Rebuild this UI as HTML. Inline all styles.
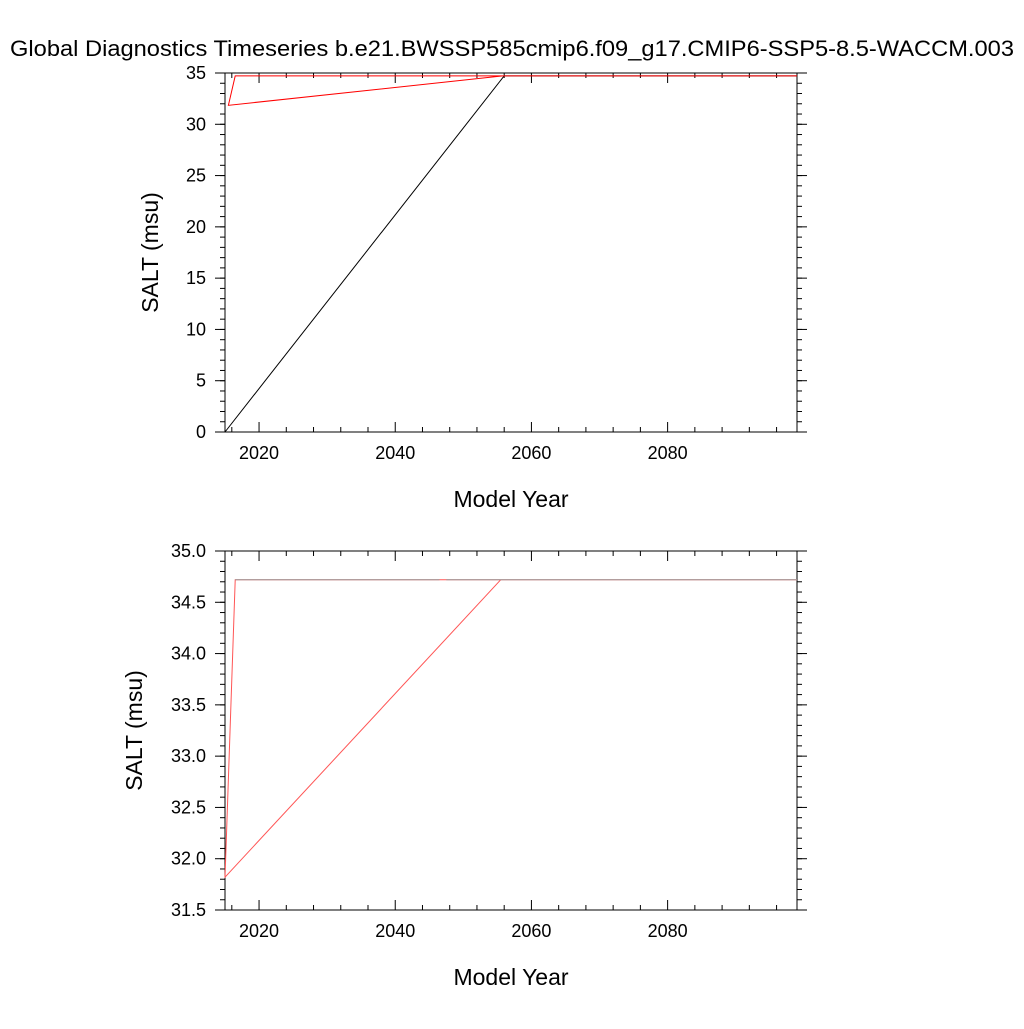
<!DOCTYPE html>
<html><head><meta charset="utf-8"><style>
body{margin:0;background:#fff}
svg text{font-family:"Liberation Sans",sans-serif;fill:#000}
</style></head><body>
<svg id="c" width="1024" height="1024" xmlns="http://www.w3.org/2000/svg">
<text x="512" y="56" font-size="22" text-anchor="middle" textLength="1004" lengthAdjust="spacingAndGlyphs">Global Diagnostics Timeseries b.e21.BWSSP585cmip6.f09_g17.CMIP6-SSP5-8.5-WACCM.003</text>
</svg>
<script>
const xTicks=[2020,2040,2060,2080];
const topYTicks=[0,5,10,15,20,25,30,35];
const botYTicks=[31.5,32.0,32.5,33.0,33.5,34.0,34.5,35.0];
// top panel series
const topBlackYears=[2015,2056,2099];
const topBlackVals=[0,34.72,34.72];
const topRedYears=[2055.8,2015.5,2016.5,2099];
const topRedVals=[34.72,31.85,34.72,34.72];
// bottom panel series
const botRedYears=[2055.5,2015,2015.2,2016.5,2099];
const botRedVals=[34.72,31.82,32.2,34.72,34.72];
const botGrayYears=[2016.5,2046.5];
const botGray2Years=[2047.5,2099];
const botGrayVals=[34.72,34.72];

const svg=document.getElementById('c');const NS='http://www.w3.org/2000/svg';
function el(t,a,p){const e=document.createElementNS(NS,t);for(const k in a)e.setAttribute(k,a[k]);(p||svg).appendChild(e);return e;}
function panel(name,top,bot,ymin,ymax,yTicks,dec,minorStep,titleX){
  const L=225,R=797,xmin=2015,xmax=2099;
  const g=el('g',{});
  
  
  const X=v=>L+(v-xmin)/(xmax-xmin)*(R-L);
  const Y=v=>bot-(v-ymin)/(ymax-ymin)*(bot-top);
  el('rect',{x:L,y:top,width:R-L,height:bot-top,fill:'none',stroke:'#000','stroke-width':1},g);
  for(let yr=2016;yr<=2098;yr+=4){const x=X(yr);const maj=yr%20==0;const len=maj?10:5;
    el('line',{x1:x,x2:x,y1:bot,y2:bot-len,stroke:'#000'},g);el('line',{x1:x,x2:x,y1:top,y2:top+len,stroke:'#000'},g);}
  xTicks.forEach(v=>{const t=el('text',{x:X(v),y:bot+27,'font-size':18,'text-anchor':'middle'},g);t.textContent=v;
    
    });
  for(let v=ymin;v<=ymax+1e-9;v+=minorStep){const y=Y(v);
    el('line',{x1:L,x2:L-5,y1:y,y2:y,stroke:'#000'},g);el('line',{x1:R,x2:R+5,y1:y,y2:y,stroke:'#000'},g);}
  yTicks.forEach(v=>{const y=Y(v);el('line',{x1:L,x2:L-10,y1:y,y2:y,stroke:'#000'},g);el('line',{x1:R,x2:R+10,y1:y,y2:y,stroke:'#000'},g);
    const t=el('text',{x:L-19,y:y+6,'font-size':18,'text-anchor':'end'},g);t.textContent=v.toFixed(dec);
    
    });
  const xt=el('text',{x:(L+R)/2,y:bot+75,'font-size':23,'text-anchor':'middle'},g);xt.textContent='Model Year';
  
  
  const cy=(top+bot)/2,cx=titleX;
  const yt=el('text',{x:cx,y:cy,'font-size':23,'text-anchor':'middle',transform:`rotate(-90 ${cx} ${cy})`},g);yt.textContent='SALT (msu)';
  
  
  return {g,X,Y};
}
function line(p,years,vals,color,name){
  const pts=years.map((y,i)=>p.X(y)+','+p.Y(vals[i])).join(' ');
  const l=el('polyline',{points:pts,fill:'none',stroke:color,'stroke-width':1},p.g);
  
  
}
const p1=panel('top-panel',73,432,0,35,topYTicks,0,1,158);
line(p1,topBlackYears,topBlackVals,'#000','series-black-top');
line(p1,topRedYears,topRedVals,'#f00','series-red-top');
const p2=panel('bottom-panel',551,910,31.5,35,botYTicks,1,0.1,142);
line(p2,botRedYears,botRedVals,'#f55','series-red-bottom');
line(p2,botGrayYears,botGrayVals,'#999','series-gray-bottom-a');
line(p2,botGray2Years,botGrayVals,'#999','series-gray-bottom-b');
</script>
</body></html>
